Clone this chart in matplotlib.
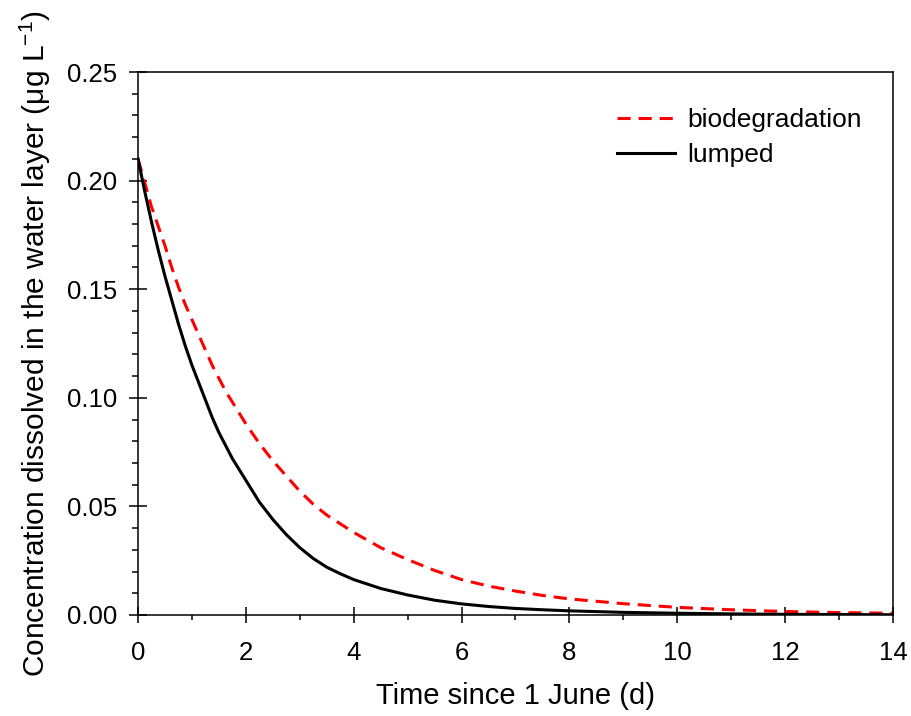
import matplotlib
matplotlib.use("Agg")
import matplotlib.pyplot as plt
from matplotlib.ticker import MultipleLocator, FormatStrFormatter

plt.rcParams['font.family'] = ['Liberation Sans', 'DejaVu Sans']
plt.rcParams['mathtext.fontset'] = 'custom'
plt.rcParams['mathtext.rm'] = 'Liberation Sans'
plt.rcParams['mathtext.it'] = 'Liberation Sans:italic'

days = [0, 0.125, 0.25, 0.375, 0.5, 0.625, 0.75, 0.875, 1, 1.125, 1.25, 1.375,
        1.5, 1.625, 1.75, 1.875, 2, 2.25, 2.5, 2.75, 3, 3.25, 3.5, 3.75, 4,
        4.5, 5, 5.5, 6, 6.5, 7, 7.5, 8, 9, 10, 11, 12, 13, 14]
biodegradation = [0.210, 0.199, 0.188, 0.179, 0.170, 0.160, 0.151, 0.143, 0.136,
                  0.129, 0.122, 0.115, 0.109, 0.103, 0.098, 0.093, 0.088, 0.079,
                  0.071, 0.064, 0.057, 0.051, 0.046, 0.042, 0.038, 0.031, 0.0255,
                  0.0205, 0.0163, 0.0133, 0.011, 0.009, 0.0074, 0.0052, 0.0035,
                  0.0024, 0.0016, 0.0011, 0.0008]
lumped = [0.210, 0.195, 0.181, 0.168, 0.156, 0.145, 0.134, 0.124, 0.115, 0.107,
          0.099, 0.091, 0.084, 0.078, 0.072, 0.067, 0.062, 0.052, 0.044, 0.037,
          0.031, 0.026, 0.022, 0.019, 0.0163, 0.0122, 0.0092, 0.0068, 0.0051,
          0.0039, 0.0030, 0.0024, 0.0019, 0.0012, 0.0008, 0.0005, 0.0003,
          0.0002, 0.0001]

fig = plt.figure(figsize=(9.11, 7.16), dpi=100)
ax = fig.add_axes([0.1515, 0.1411, 0.8287, 0.7583])

ax.plot(days, biodegradation, color='#ff0000', lw=2.2, ls=(0, (4.3, 2.6)),
        label='biodegradation')
ax.plot(days, lumped, color='black', lw=2.2, label='lumped')

ax.set_xlim(0, 14)
ax.set_ylim(0, 0.25)
ax.xaxis.set_major_locator(MultipleLocator(2))
ax.xaxis.set_minor_locator(MultipleLocator(1))
ax.yaxis.set_major_locator(MultipleLocator(0.05))
ax.yaxis.set_minor_locator(MultipleLocator(0.01))
ax.yaxis.set_major_formatter(FormatStrFormatter('%.2f'))

ax.tick_params(axis='y', which='major', direction='inout', length=12.5, width=1.1,
               labelsize=18.5, pad=8.5)
ax.tick_params(axis='y', which='minor', direction='out', length=4.3, width=1.1)
ax.tick_params(axis='x', which='major', direction='inout', length=11.5, width=1.1,
               labelsize=18.5, pad=13)
ax.tick_params(axis='x', which='minor', direction='out', length=3.6, width=1.1)
for s in ax.spines.values():
    s.set_linewidth(1.1)

ax.set_xlabel('Time since 1 June (d)', fontsize=21, labelpad=12)
ax.set_ylabel('Concentration dissolved in the water layer (μg L$^{-1}$)',
              fontsize=21.5, labelpad=10.5)

ax.legend(loc='upper right', bbox_to_anchor=(0.99, 0.977), frameon=False,
          fontsize=19, handlelength=2.2, handletextpad=0.45, labelspacing=0.4)

fig.savefig('out.png', dpi=100)
